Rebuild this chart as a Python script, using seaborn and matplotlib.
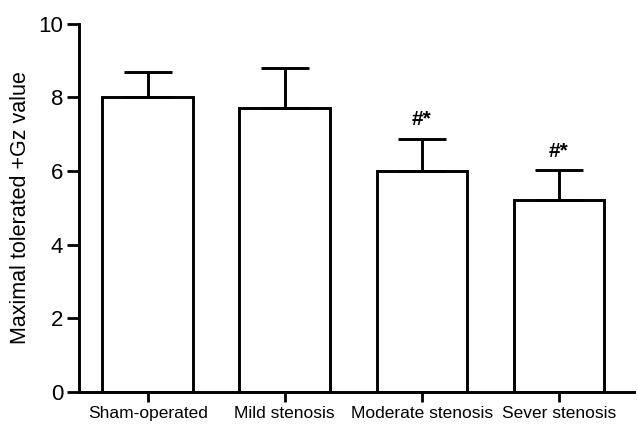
import numpy as np
import pandas as pd
import seaborn as sns
import matplotlib.pyplot as plt

groups = ['Sham-operated', 'Mild stenosis', 'Moderate stenosis', 'Sever stenosis']
means = [8.0, 7.7, 6.0, 5.2]
errors = [0.7, 1.1, 0.87, 0.82]
marks = ['', '', '#*', '#*']

sns.set_theme(style="ticks", rc={'text.color': 'black', 'axes.labelcolor': 'black',
                                 'xtick.color': 'black', 'ytick.color': 'black'})
plt.rcParams['font.family'] = ['Liberation Sans', 'DejaVu Sans']

df = pd.DataFrame({'group': groups, 'value': means})

fig = plt.figure(figsize=(6.38, 4.25), dpi=100)
ax = fig.add_axes([0.124, 0.078, 0.87, 0.866])

sns.barplot(data=df, x='group', y='value', ax=ax, width=0.66, color='white',
            saturation=1, edgecolor='black', linewidth=2.1, errorbar=None)
ax.errorbar(np.arange(len(groups)), means, yerr=[np.zeros(len(groups)), errors],
            fmt='none', ecolor='black', elinewidth=2.1, capsize=17, capthick=2.1)

for i, m in enumerate(marks):
    if m:
        ax.annotate(m, (i, means[i] + errors[i]), xytext=(0, 7), textcoords='offset points',
                    ha='center', va='bottom', fontsize=15, fontweight='bold', color='black')

ax.set_xlim(-0.5, 3.55)
ax.set_ylim(0, 10)
ax.set_yticks([0, 2, 4, 6, 8, 10])
ax.set_xlabel('')
ax.set_ylabel('Maximal tolerated +Gz value', fontsize=15.5, labelpad=5)
sns.despine(ax=ax)
for s in ['left', 'bottom']:
    ax.spines[s].set_linewidth(2.1)
    ax.spines[s].set_color('black')
ax.tick_params(axis='y', length=8.5, width=2, labelsize=16, pad=3)
ax.tick_params(axis='x', length=7, width=2, labelsize=12.5, pad=3)

fig.savefig('out.png', dpi=100)
